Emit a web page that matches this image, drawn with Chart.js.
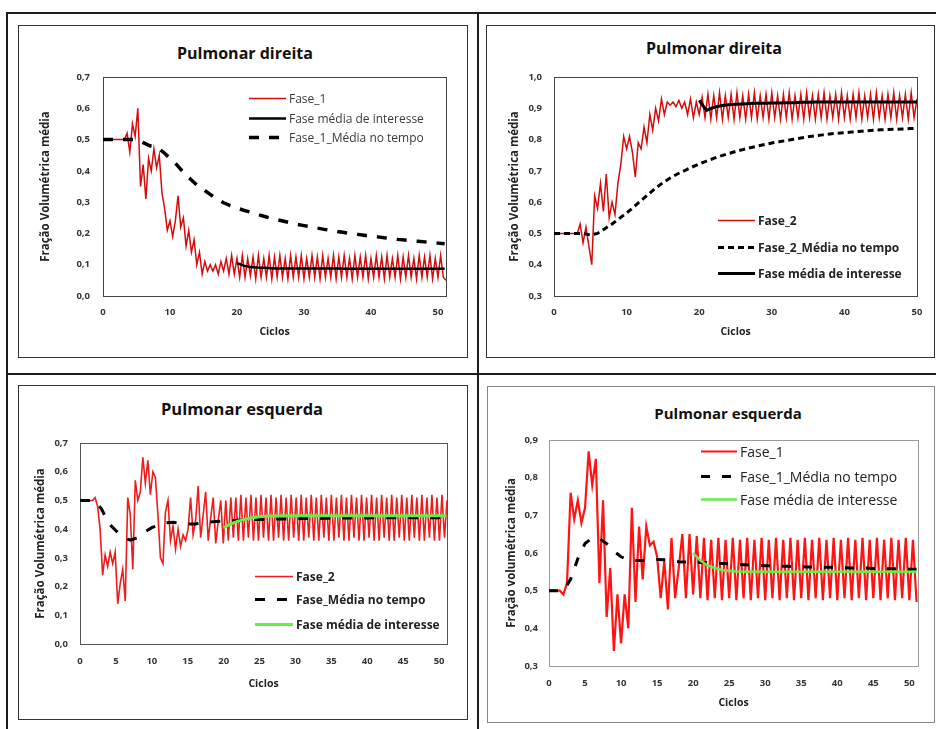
<!DOCTYPE html>
<html>
<head>
<meta charset="utf-8">
<script src="https://cdn.jsdelivr.net/npm/chart.js@4.4.0/dist/chart.umd.min.js"></script>
<style>
  body { margin: 0; width: 936px; height: 729px; position: relative; background: #fff; overflow: hidden; font-family: "Open Sans", sans-serif; }
  .rule { position: absolute; background: #1c1c1c; }
  .box { position: absolute; box-sizing: border-box; border: 1.5px solid #333; }
  .title { position: absolute; transform: translate(-50%, -50%); white-space: nowrap; font-weight: bold; color: #111; }
  .leg { position: absolute; white-space: nowrap; transform: translateY(-50%); }
  .leg svg { position: absolute; top: 50%; transform: translateY(-50%); }
  canvas { position: absolute; }
</style>
</head>
<body>
<div class="rule" style="left:6px;top:12px;width:930px;height:2px"></div>
<div class="rule" style="left:6px;top:12px;width:2px;height:717px"></div>
<div class="rule" style="left:477px;top:12px;width:2px;height:717px"></div>
<div class="rule" style="left:6px;top:373px;width:930px;height:2px"></div>

<script>
// ---- Painel 1: Pulmonar direita, Fase_1 ----
const p1Title = 'Pulmonar direita';
const p1Labels = ['Fase_1', 'Fase média de interesse', 'Fase_1_Média no tempo'];
const p1XTicks = [0, 10, 20, 30, 40, 50];
const p1YTicks = [0, 0.1, 0.2, 0.3, 0.4, 0.5, 0.6, 0.7];
const p1FaseStep = 0.4; // ciclos entre amostras
const p1Fase = [
  0.5, 0.5, 0.5, 0.5, 0.5, 0.5, 0.5, 0.5, 0.5, 0.52,
  0.46, 0.55, 0.51, 0.60, 0.35, 0.42, 0.31, 0.44, 0.40, 0.47,
  0.41, 0.45, 0.33, 0.28, 0.21, 0.24, 0.19, 0.24, 0.32, 0.22,
  0.25, 0.16, 0.21, 0.14, 0.18, 0.10, 0.14, 0.07, 0.11, 0.08,
  0.10, 0.08, 0.10, 0.07, 0.11, 0.08, 0.12, 0.07, 0.13, 0.07,
  0.12, 0.06, 0.13, 0.06, 0.12, 0.065, 0.125, 0.055, 0.13, 0.06,
  0.12, 0.06, 0.13, 0.055, 0.125, 0.06, 0.13, 0.06, 0.12, 0.055,
  0.13, 0.06, 0.125, 0.06, 0.13, 0.055, 0.12, 0.06, 0.13, 0.06,
  0.125, 0.055, 0.13, 0.06, 0.12, 0.06, 0.13, 0.055, 0.125, 0.06,
  0.13, 0.06, 0.12, 0.055, 0.13, 0.06, 0.125, 0.06, 0.13, 0.055,
  0.12, 0.06, 0.13, 0.06, 0.125, 0.055, 0.13, 0.06, 0.12, 0.06,
  0.13, 0.055, 0.125, 0.06, 0.13, 0.06, 0.12, 0.055, 0.13, 0.06,
  0.125, 0.06, 0.13, 0.055, 0.12, 0.06, 0.13, 0.06, 0.05
];
const p1Media = [ // ciclos 0..51
  0.5, 0.5, 0.5, 0.5, 0.5, 0.5, 0.49, 0.48, 0.475, 0.46,
  0.44, 0.42, 0.395, 0.375, 0.355, 0.34, 0.325, 0.31, 0.298, 0.289,
  0.281, 0.274, 0.268, 0.261, 0.255, 0.249, 0.244, 0.239, 0.234, 0.229,
  0.225, 0.221, 0.217, 0.213, 0.21, 0.206, 0.203, 0.2, 0.197, 0.194,
  0.191, 0.189, 0.186, 0.184, 0.181, 0.179, 0.177, 0.175, 0.173, 0.171,
  0.169, 0.167
];
const p1Interesse = [ // ciclos 20..51
  0.105, 0.097, 0.093, 0.091, 0.09, 0.089, 0.088, 0.088, 0.088, 0.088,
  0.088, 0.088, 0.088, 0.088, 0.088, 0.088, 0.087, 0.087, 0.087, 0.087,
  0.087, 0.087, 0.087, 0.087, 0.087, 0.087, 0.087, 0.087, 0.087, 0.087,
  0.087, 0.087
];

// ---- Painel 2: Pulmonar direita, Fase_2 ----
const p2Title = 'Pulmonar direita';
const p2Labels = ['Fase_2', 'Fase_2_Média no tempo', 'Fase média de interesse'];
const p2XTicks = [0, 10, 20, 30, 40, 50];
const p2YTicks = [0.3, 0.4, 0.5, 0.6, 0.7, 0.8, 0.9, 1.0];
const p2FaseStep = 0.4;
const p2Fase = [
  0.5, 0.5, 0.5, 0.5, 0.5, 0.5, 0.5, 0.5, 0.5, 0.53,
  0.47, 0.52, 0.46, 0.40, 0.62, 0.58, 0.66, 0.57, 0.69, 0.55,
  0.60, 0.56, 0.66, 0.72, 0.81, 0.77, 0.81, 0.76, 0.68, 0.79,
  0.77, 0.84, 0.79, 0.88, 0.83, 0.90, 0.86, 0.93, 0.88, 0.92,
  0.91, 0.92, 0.905, 0.925, 0.90, 0.92, 0.88, 0.93, 0.87, 0.92,
  0.88, 0.935, 0.87, 0.945, 0.865, 0.94, 0.87, 0.95, 0.865, 0.94,
  0.87, 0.945, 0.865, 0.95, 0.87, 0.94, 0.865, 0.945, 0.87, 0.95,
  0.865, 0.94, 0.87, 0.945, 0.865, 0.95, 0.87, 0.94, 0.865, 0.945,
  0.87, 0.95, 0.865, 0.94, 0.87, 0.945, 0.865, 0.95, 0.87, 0.94,
  0.865, 0.945, 0.87, 0.95, 0.865, 0.94, 0.87, 0.945, 0.865, 0.95,
  0.87, 0.94, 0.865, 0.945, 0.87, 0.95, 0.865, 0.94, 0.87, 0.945,
  0.865, 0.95, 0.87, 0.94, 0.865, 0.945, 0.87, 0.95, 0.865, 0.94,
  0.87, 0.945, 0.865, 0.95, 0.87, 0.93
];
const p2Media = [ // ciclos 0..50
  0.5, 0.5, 0.5, 0.5, 0.5, 0.495, 0.5, 0.515, 0.53, 0.548,
  0.565, 0.585, 0.605, 0.625, 0.645, 0.662, 0.677, 0.69, 0.701, 0.712,
  0.722, 0.731, 0.74, 0.748, 0.755, 0.762, 0.768, 0.774, 0.779, 0.784,
  0.789, 0.793, 0.797, 0.801, 0.805, 0.809, 0.812, 0.815, 0.818, 0.82,
  0.822, 0.824, 0.826, 0.828, 0.83, 0.831, 0.832, 0.833, 0.834, 0.835,
  0.836
];
const p2Interesse = [ // ciclos 20..50
  0.925, 0.893, 0.903, 0.908, 0.911, 0.913, 0.914, 0.915, 0.916, 0.916,
  0.917, 0.917, 0.918, 0.918, 0.919, 0.919, 0.92, 0.92, 0.92, 0.92,
  0.92, 0.92, 0.92, 0.92, 0.92, 0.92, 0.92, 0.92, 0.92, 0.92,
  0.92
];

// ---- Painel 3: Pulmonar esquerda, Fase_2 ----
const p3Title = 'Pulmonar esquerda';
const p3Labels = ['Fase_2', 'Fase_Média no tempo', 'Fase média de interesse'];
const p3XTicks = [0, 5, 10, 15, 20, 25, 30, 35, 40, 45, 50];
const p3YTicks = [0, 0.1, 0.2, 0.3, 0.4, 0.5, 0.6, 0.7];
const p3FaseStep = 0.35;
const p3Fase = [
  0.5, 0.5, 0.5, 0.5, 0.5, 0.5, 0.51, 0.48, 0.40, 0.24,
  0.31, 0.27, 0.32, 0.28, 0.32, 0.14, 0.21, 0.26, 0.15, 0.51,
  0.45, 0.26, 0.57, 0.50, 0.53, 0.65, 0.56, 0.64, 0.52, 0.60,
  0.58, 0.45, 0.30, 0.28, 0.46, 0.50, 0.36, 0.41, 0.33, 0.40,
  0.34, 0.38, 0.36, 0.40, 0.51, 0.38, 0.43, 0.55, 0.37, 0.45,
  0.53, 0.36, 0.44, 0.51, 0.35, 0.43, 0.50, 0.35, 0.50, 0.36,
  0.51, 0.37, 0.51, 0.36, 0.52, 0.36, 0.51, 0.37, 0.52, 0.36,
  0.51, 0.36, 0.52, 0.37, 0.51, 0.36, 0.52, 0.36, 0.51, 0.37,
  0.52, 0.36, 0.51, 0.36, 0.52, 0.37, 0.51, 0.36, 0.52, 0.36,
  0.51, 0.37, 0.52, 0.36, 0.51, 0.36, 0.52, 0.37, 0.51, 0.36,
  0.52, 0.36, 0.51, 0.37, 0.52, 0.36, 0.51, 0.36, 0.52, 0.37,
  0.51, 0.36, 0.52, 0.36, 0.51, 0.37, 0.52, 0.36, 0.51, 0.36,
  0.52, 0.37, 0.51, 0.36, 0.52, 0.36, 0.51, 0.37, 0.52, 0.36,
  0.51, 0.36, 0.52, 0.37, 0.51, 0.36, 0.52, 0.36, 0.51, 0.37,
  0.52, 0.36, 0.51, 0.36, 0.52, 0.37, 0.50
];
const p3Media = [ // ciclos 0..51
  0.5, 0.5, 0.5, 0.47, 0.42, 0.395, 0.372, 0.362, 0.37, 0.39,
  0.405, 0.415, 0.422, 0.424, 0.42, 0.418, 0.418, 0.422, 0.425, 0.427,
  0.428, 0.43, 0.431, 0.432, 0.433, 0.434, 0.434, 0.435, 0.435, 0.436,
  0.436, 0.437, 0.437, 0.437, 0.438, 0.438, 0.438, 0.439, 0.439, 0.439,
  0.439, 0.44, 0.44, 0.44, 0.44, 0.44, 0.44, 0.44, 0.44, 0.44,
  0.44, 0.44
];
const p3Interesse = [ // ciclos 20..51
  0.405, 0.418, 0.428, 0.435, 0.44, 0.443, 0.445, 0.446, 0.447, 0.447,
  0.447, 0.447, 0.447, 0.447, 0.447, 0.447, 0.447, 0.447, 0.447, 0.447,
  0.447, 0.447, 0.447, 0.447, 0.447, 0.447, 0.447, 0.447, 0.447, 0.447,
  0.447, 0.447
];

// ---- Painel 4: Pulmonar esquerda, Fase_1 ----
const p4Title = 'Pulmonar esquerda';
const p4Labels = ['Fase_1', 'Fase_1_Média no tempo', 'Fase média de interesse'];
const p4XTicks = [0, 5, 10, 15, 20, 25, 30, 35, 40, 45, 50];
const p4YTicks = [0.3, 0.4, 0.5, 0.6, 0.7, 0.8, 0.9];
const p4FaseStep = 0.5;
const p4Fase = [
  0.5, 0.5, 0.5, 0.5, 0.49, 0.52, 0.76, 0.69, 0.74, 0.68,
  0.72, 0.87, 0.78, 0.85, 0.52, 0.74, 0.43, 0.56, 0.34, 0.49,
  0.36, 0.49, 0.40, 0.72, 0.47, 0.67, 0.53, 0.67, 0.62, 0.63,
  0.59, 0.48, 0.58, 0.45, 0.64, 0.48, 0.56, 0.65, 0.48, 0.65,
  0.49, 0.645, 0.48, 0.64, 0.475, 0.635, 0.48, 0.64, 0.475, 0.635,
  0.48, 0.64, 0.475, 0.635, 0.48, 0.64, 0.475, 0.635, 0.48, 0.64,
  0.475, 0.635, 0.48, 0.64, 0.475, 0.635, 0.48, 0.64, 0.475, 0.635,
  0.48, 0.64, 0.475, 0.635, 0.48, 0.64, 0.475, 0.635, 0.48, 0.64,
  0.475, 0.635, 0.48, 0.64, 0.475, 0.635, 0.48, 0.64, 0.475, 0.635,
  0.48, 0.64, 0.475, 0.635, 0.48, 0.64, 0.475, 0.635, 0.48, 0.64,
  0.475, 0.635, 0.47
];
const p4Media = [ // ciclos 0..51
  0.5, 0.5, 0.5, 0.53, 0.585, 0.625, 0.64, 0.638, 0.625, 0.605,
  0.59, 0.582, 0.58, 0.58, 0.582, 0.583, 0.582, 0.579, 0.577, 0.576,
  0.576, 0.575, 0.574, 0.573, 0.572, 0.571, 0.57, 0.569, 0.568, 0.567,
  0.566, 0.566, 0.565, 0.565, 0.564, 0.564, 0.563, 0.563, 0.562, 0.562,
  0.561, 0.561, 0.56, 0.56, 0.56, 0.559, 0.559, 0.558, 0.558, 0.558,
  0.557, 0.557
];
const p4Interesse = [ // ciclos 20..51
  0.60, 0.58, 0.567, 0.56, 0.555, 0.553, 0.551, 0.55, 0.55, 0.55,
  0.55, 0.55, 0.55, 0.55, 0.55, 0.55, 0.55, 0.55, 0.55, 0.55,
  0.55, 0.55, 0.55, 0.55, 0.55, 0.55, 0.55, 0.55, 0.55, 0.55,
  0.55, 0.55
];

const FONT = '"Open Sans", Lato, sans-serif';
const comma = v => v.toFixed(1).replace('.', ',');
const pts = (vals, step, start) => vals.map((v, i) => ({ x: start + i * step, y: v }));

// draws the plot-area rectangle like Excel does
const frame = {
  id: 'frame',
  beforeDatasetsDraw(chart, args, opts) {
    const { ctx, chartArea: a } = chart;
    ctx.save();
    ctx.strokeStyle = opts.color;
    ctx.lineWidth = 1;
    ctx.strokeRect(Math.round(a.left) + 0.5, Math.round(a.top) + 0.5,
      Math.round(a.right - a.left), Math.round(a.bottom - a.top));
    ctx.restore();
  }
};

function lineSample(s, w) {
  const dash = s.dash ? ` stroke-dasharray="${s.dash.join(' ')}"` : '';
  return `<svg width="${w}" height="8" style="left:${-w - 3}px"><line x1="0" y1="4" x2="${w}" y2="4" stroke="${s.color}" stroke-width="${s.width}"${dash}/></svg>`;
}

function panel(p) {
  const [bx, by, bw, bh] = p.box;
  const box = document.createElement('div');
  box.className = 'box';
  box.style.cssText = `left:${bx}px;top:${by}px;width:${bw}px;height:${bh}px;border-color:${p.boxColor}`;
  document.body.appendChild(box);

  const t = document.createElement('div');
  t.className = 'title';
  t.textContent = p.title;
  t.style.cssText = `left:${p.titlePos[0]}px;top:${p.titlePos[1]}px;font-size:${p.titleSize}px`;
  document.body.appendChild(t);

  const cv = document.createElement('canvas');
  cv.width = bw; cv.height = bh;
  cv.style.left = bx + 'px'; cv.style.top = by + 'px';
  document.body.appendChild(cv);

  const tickFont = { family: FONT, size: 9.5, weight: 'bold', lineHeight: 1.2 };
  const axisFont = { family: FONT, size: 11.5, weight: 'bold', lineHeight: 1.2 };
  const halfLine = 11.5 * 1.2 / 2;

  new Chart(cv, {
    type: 'line',
    data: {
      datasets: p.series.map(s => ({
        label: s.label,
        data: s.data,
        borderColor: s.color,
        borderWidth: s.width,
        borderDash: s.dash || [],
        order: s.order,
        pointRadius: 0,
        tension: 0,
        fill: false
      }))
    },
    options: {
      responsive: false,
      animation: false,
      devicePixelRatio: 1,
      layout: { padding: { left: 0, top: p.plot.top - by, right: bx + bw - p.plot.right, bottom: 0 } },
      plugins: { legend: { display: false }, tooltip: { enabled: false }, frame: { color: p.frameColor } },
      scales: {
        x: {
          type: 'linear', min: 0, max: p.xMax,
          grid: { display: false, drawTicks: false },
          border: { display: false },
          afterBuildTicks: s => { s.ticks = p.xTicks.map(v => ({ value: v })); },
          afterFit: s => { s.height = by + bh - p.plot.bottom; },
          ticks: { font: tickFont, color: '#333', maxRotation: 0, autoSkip: false,
                   padding: p.xTickY - p.plot.bottom - 5.7, callback: v => String(v) },
          title: { display: true, text: 'Ciclos', font: { ...axisFont, size: 10.5 }, color: '#222',
                   padding: { top: 0, bottom: by + bh - p.xTitleY - 6.3 } }
        },
        y: {
          min: p.yTicks[0], max: p.yTicks[p.yTicks.length - 1],
          grid: { display: false, drawTicks: false },
          border: { display: false },
          afterBuildTicks: s => { s.ticks = p.yTicks.map(v => ({ value: v })); },
          afterFit: s => { s.width = p.plot.left - bx; },
          ticks: { font: tickFont, color: '#333', padding: p.yTickGap, callback: v => comma(v) },
          title: { display: true, text: p.yTitle, font: axisFont, color: '#222',
                   padding: { top: p.yTitleX - bx - halfLine, bottom: 0 } }
        }
      }
    },
    plugins: [frame]
  });

  // legend, in the order of the original
  const L = p.legend;
  p.series.forEach((s, i) => {
    const d = document.createElement('div');
    d.className = 'leg';
    d.style.cssText = `left:${L.textX}px;top:${L.ys[i]}px;font-size:${L.size}px;font-weight:${L.weight};color:${L.color}`;
    d.innerHTML = lineSample(s, L.lineW) + s.label;
    document.body.appendChild(d);
  });
}

panel({
  box: [18, 25, 450, 333], boxColor: '#333', frameColor: '#444',
  plot: { left: 103, top: 77, right: 446, bottom: 296 },
  title: p1Title, titlePos: [245, 53], titleSize: 16,
  xMax: 51.2, xTicks: p1XTicks, yTicks: p1YTicks,
  yTitle: 'Fração Volumétrica média', yTitleX: 46, xTitleY: 332, yTickGap: 13, xTickY: 312,
  legend: { textX: 289, lineW: 37, ys: [98, 118, 137], size: 12, weight: 'normal', color: '#3a3a3a' },
  series: [
    { label: p1Labels[0], data: pts(p1Fase, p1FaseStep, 0), color: '#d40c0c', width: 1.5, order: 3 },
    { label: p1Labels[1], data: pts(p1Interesse, 1, 20), color: '#000', width: 2.5, order: 1 },
    { label: p1Labels[2], data: pts(p1Media, 1, 0), color: '#000', width: 3.5, dash: [10, 10], order: 2 }
  ]
});

panel({
  box: [486, 25, 449, 333], boxColor: '#333', frameColor: '#444',
  plot: { left: 554, top: 77, right: 917, bottom: 296 },
  title: p2Title, titlePos: [714, 48], titleSize: 16,
  xMax: 50, xTicks: p2XTicks, yTicks: p2YTicks,
  yTitle: 'Fração Volumétrica média', yTitleX: 515, xTitleY: 332, yTickGap: 12, xTickY: 312,
  legend: { textX: 758, lineW: 37, ys: [220, 247, 273], size: 12, weight: 'bold', color: '#222' },
  series: [
    { label: p2Labels[0], data: pts(p2Fase, p2FaseStep, 0), color: '#d40c0c', width: 1.5, order: 3 },
    { label: p2Labels[1], data: pts(p2Media, 1, 0), color: '#000', width: 3, dash: [6, 4], order: 2 },
    { label: p2Labels[2], data: pts(p2Interesse, 1, 20), color: '#000', width: 3, order: 1 }
  ]
});

panel({
  box: [18, 385, 450, 335], boxColor: '#333', frameColor: '#555',
  plot: { left: 80, top: 443, right: 447, bottom: 644 },
  title: p3Title, titlePos: [242, 408], titleSize: 16.5,
  xMax: 51.1, xTicks: p3XTicks, yTicks: p3YTicks,
  yTitle: 'Fração Volumétrica média', yTitleX: 41, xTitleY: 684, yTickGap: 12, xTickY: 661,
  legend: { textX: 296, lineW: 38, ys: [576, 599, 624], size: 12, weight: 'bold', color: '#222' },
  series: [
    { label: p3Labels[0], data: pts(p3Fase, p3FaseStep, 0), color: '#ee1c1c', width: 1.6, order: 3 },
    { label: p3Labels[1], data: pts(p3Media, 1, 0), color: '#000', width: 3, dash: [10, 12], order: 2 },
    { label: p3Labels[2], data: pts(p3Interesse, 1, 20), color: '#66ee44', width: 3, order: 1 }
  ]
});

panel({
  box: [487, 386, 448, 337], boxColor: '#888', frameColor: '#999',
  plot: { left: 549, top: 440, right: 918, bottom: 666 },
  title: p4Title, titlePos: [728, 413], titleSize: 15,
  xMax: 51.2, xTicks: p4XTicks, yTicks: p4YTicks,
  yTitle: 'Fração volumétrica média', yTitleX: 512, xTitleY: 703, yTickGap: 11, xTickY: 683,
  legend: { textX: 740, lineW: 36, ys: [451, 476, 499], size: 14, weight: 'normal', color: '#222' },
  series: [
    { label: p4Labels[0], data: pts(p4Fase, p4FaseStep, 0), color: '#ff1414', width: 2.2, order: 3 },
    { label: p4Labels[1], data: pts(p4Media, 1, 0), color: '#000', width: 3, dash: [9, 12], order: 2 },
    { label: p4Labels[2], data: pts(p4Interesse, 1, 20), color: '#66ee44', width: 2.5, order: 1 }
  ]
});
</script>
</body>
</html>
